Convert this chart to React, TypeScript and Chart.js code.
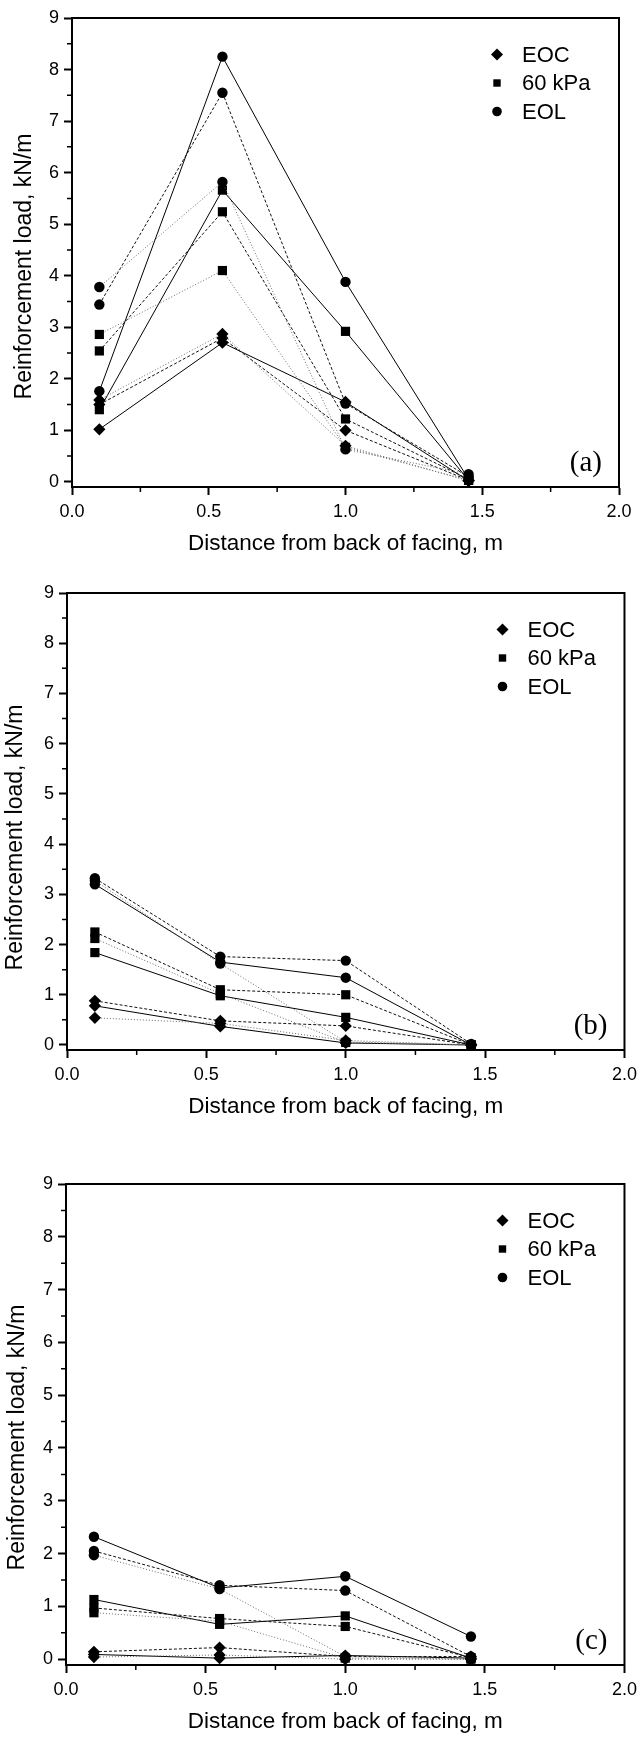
import React, { useEffect, useRef } from 'react';
import { Chart, registerables } from 'chart.js';

Chart.register(...registerables);

// ---------- data ----------
const distances = [0.1, 0.55, 1.0, 1.45];
const stageLabels = ['EOC', '60 kPa', 'EOL'];
const xTickValues = [0, 0.5, 1.0, 1.5, 2.0];
const xMinorTickValues = [0.25, 0.75, 1.25, 1.75];
const yTickValues = [0, 1, 2, 3, 4, 5, 6, 7, 8, 9];
const yMinorTickValues = [0.5, 1.5, 2.5, 3.5, 4.5, 5.5, 6.5, 7.5, 8.5];
const xAxisTitle = 'Distance from back of facing, m';
const yAxisTitle = 'Reinforcement load, kN/m';

// Panel (a)
const aEocSolid = [1.02, 2.7, 1.55, 0.02];
const aEocDashed = [1.5, 2.79, 1.0, 0.03];
const aEocDotted = [1.59, 2.87, 0.7, 0.02];
const a60Solid = [1.4, 5.66, 2.92, 0.03];
const a60Dashed = [2.54, 5.24, 1.22, 0.05];
const a60Dotted = [2.86, 4.1, 0.67, 0.03];
const aEolSolid = [1.76, 8.25, 3.88, 0.05];
const aEolDashed = [3.44, 7.55, 1.52, 0.1];
const aEolDotted = [3.78, 5.82, 0.63, 0.15];

// Panel (b)
const bEocSolid = [0.78, 0.37, 0.04, 0.0];
const bEocDashed = [0.88, 0.48, 0.38, 0.0];
const bEocDotted = [0.54, 0.43, 0.09, 0.0];
const b60Solid = [1.84, 0.98, 0.55, 0.0];
const b60Dashed = [2.25, 1.1, 1.0, 0.0];
const b60Dotted = [2.12, 1.02, 0.05, 0.0];
const bEolSolid = [3.2, 1.65, 1.34, 0.0];
const bEolDashed = [3.32, 1.76, 1.68, 0.02];
const bEolDotted = [3.27, 1.62, 0.06, 0.0];

// Panel (c)
const cEocSolid = [0.09, 0.02, 0.07, 0.02];
const cEocDashed = [0.14, 0.22, 0.05, 0.05];
const cEocDotted = [0.04, 0.08, 0.0, 0.0];
const c60Solid = [1.13, 0.66, 0.82, 0.02];
const c60Dashed = [0.97, 0.77, 0.62, 0.03];
const c60Dotted = [0.88, 0.72, 0.02, 0.0];
const cEolSolid = [2.32, 1.35, 1.57, 0.43];
const cEolDashed = [2.05, 1.4, 1.3, 0.05];
const cEolDotted = [1.97, 1.33, 0.05, 0.0];

// ---------- styles ----------
const SANS = "'Liberation Sans', Arial, sans-serif";
const SERIF = "'Liberation Serif', 'Times New Roman', serif";
const lineStyles = [
  { color: '#000000', dash: [] as number[] },
  { color: '#111111', dash: [3, 2] },
  { color: '#6a6a6a', dash: [1, 2] },
];
const markerStyles = [
  { style: 'rectRot', radius: 6.1 },
  { style: 'rect', radius: 6.5 },
  { style: 'circle', radius: 5.2 },
];

const panels = [
  {
    tag: '(a)',
    series: [
      [aEocSolid, aEocDashed, aEocDotted],
      [a60Solid, a60Dashed, a60Dotted],
      [aEolSolid, aEolDashed, aEolDotted],
    ],
    geom: { top: 0, chartTop: 18, chartBottom: 487, left: 72, right: 619, yMin: -0.1, yTitleX: 25, yTitleShift: 14 },
  },
  {
    tag: '(b)',
    series: [
      [bEocSolid, bEocDashed, bEocDotted],
      [b60Solid, b60Dashed, b60Dotted],
      [bEolSolid, bEolDashed, bEolDotted],
    ],
    geom: { top: 565, chartTop: 593, chartBottom: 1050, left: 67, right: 629, yMin: -0.1, yTitleX: 16, yTitleShift: 16 },
  },
  {
    tag: '(c)',
    series: [
      [cEocSolid, cEocDashed, cEocDotted],
      [c60Solid, c60Dashed, c60Dotted],
      [cEolSolid, cEolDashed, cEolDotted],
    ],
    geom: { top: 1125, chartTop: 1184, chartBottom: 1665, left: 66, right: 628, yMin: -0.11, yTitleX: 18, yTitleShift: 13 },
  },
];

const WIDTH = 643;

function drawMarker(ctx: CanvasRenderingContext2D, kind: string, x: number, y: number) {
  ctx.beginPath();
  if (kind === 'rectRot') {
    const r = 6;
    ctx.moveTo(x, y - r);
    ctx.lineTo(x + r, y);
    ctx.lineTo(x, y + r);
    ctx.lineTo(x - r, y);
    ctx.closePath();
  } else if (kind === 'rect') {
    const h = 3.7;
    ctx.rect(x - h, y - h, 2 * h, 2 * h);
  } else {
    ctx.arc(x, y, 4.8, 0, Math.PI * 2);
  }
  ctx.fill();
}

const framePlugin = {
  id: 'frame',
  afterDraw(chart: any, _args: any, opts: any) {
    const { ctx, chartArea: ca, scales } = chart;
    ctx.save();
    // top and right frame
    ctx.strokeStyle = '#000';
    ctx.lineWidth = 2;
    ctx.beginPath();
    ctx.moveTo(ca.left - 1, ca.top);
    ctx.lineTo(ca.right, ca.top);
    ctx.lineTo(ca.right, ca.bottom + 1);
    ctx.stroke();
    // minor ticks
    ctx.lineWidth = 1.5;
    ctx.beginPath();
    yMinorTickValues.forEach((v) => {
      const py = scales.y.getPixelForValue(v);
      ctx.moveTo(ca.left - 5, py);
      ctx.lineTo(ca.left, py);
    });
    xMinorTickValues.forEach((v) => {
      const px = scales.x.getPixelForValue(v);
      ctx.moveTo(px, ca.bottom);
      ctx.lineTo(px, ca.bottom + 5);
    });
    ctx.stroke();
    // legend
    ctx.fillStyle = '#000';
    ctx.font = `22px ${SANS}`;
    ctx.textBaseline = 'middle';
    ctx.textAlign = 'left';
    const rowOffsets = [36.5, 65, 93.5];
    stageLabels.forEach((label, i) => {
      const y = ca.top + rowOffsets[i];
      drawMarker(ctx, markerStyles[i].style, ca.right - 122, y);
      ctx.fillText(label, ca.right - 97, y + 1);
    });
    // panel tag
    ctx.font = `29px ${SERIF}`;
    ctx.textAlign = 'right';
    ctx.fillText(opts.tag, ca.right - 17, ca.bottom - 24);
    // y-axis title
    ctx.font = `23px ${SANS}`;
    ctx.textAlign = 'center';
    ctx.translate(opts.yTitleX, (ca.top + ca.bottom) / 2 + opts.yTitleShift);
    ctx.rotate(-Math.PI / 2);
    ctx.fillText(yAxisTitle, 0, 0);
    ctx.restore();
  },
};

function Panel({ panel }: { panel: (typeof panels)[number] }) {
  const ref = useRef<HTMLCanvasElement>(null);
  const g = panel.geom;
  const height = g.chartBottom - g.top + 70;

  useEffect(() => {
    if (!ref.current) return;
    const datasets: any[] = [];
    for (let k = 2; k >= 0; k--) {
      for (let s = 0; s < 3; s++) {
        const values = panel.series[s][k];
        datasets.push({
          label: `${stageLabels[s]}-${k}`,
          data: distances.map((x, i) => ({ x, y: values[i] })),
          showLine: true,
          borderColor: lineStyles[k].color,
          borderDash: lineStyles[k].dash,
          borderWidth: 1,
          pointStyle: markerStyles[s].style,
          pointRadius: markerStyles[s].radius,
          pointBackgroundColor: '#000',
          pointBorderColor: '#000',
          pointBorderWidth: 0,
          clip: false,
        });
      }
    }
    const tickFont = { family: SANS, size: 18 };
    const gridOpts = {
      drawOnChartArea: false,
      drawTicks: true,
      tickLength: 8,
      tickWidth: 2,
      tickColor: '#000',
    };
    const chart = new Chart(ref.current, {
      type: 'scatter',
      data: { datasets },
      options: {
        responsive: false,
        animation: false,
        devicePixelRatio: 1,
        layout: { padding: { left: 0, right: WIDTH - g.right, top: g.chartTop - g.top, bottom: 0 } },
        plugins: {
          legend: { display: false },
          tooltip: { enabled: false },
          frame: { tag: panel.tag, yTitleX: g.yTitleX, yTitleShift: g.yTitleShift },
        } as any,
        scales: {
          x: {
            type: 'linear',
            position: 'bottom',
            min: 0,
            max: 2,
            afterBuildTicks: (s: any) => {
              s.ticks = xTickValues.map((v) => ({ value: v }));
            },
            afterFit: (s: any) => {
              s.height = height - (g.chartBottom - g.top);
            },
            ticks: {
              callback: (v: any) => Number(v).toFixed(1),
              font: tickFont,
              color: '#000',
              padding: 6,
              maxRotation: 0,
              autoSkip: false,
            },
            grid: gridOpts,
            border: { display: true, color: '#000', width: 2 },
            title: {
              display: true,
              text: xAxisTitle,
              font: { family: SANS, size: 22.5 },
              color: '#000',
              padding: { top: 0, bottom: 0 },
            },
          },
          y: {
            type: 'linear',
            position: 'left',
            min: g.yMin,
            max: 9,
            afterBuildTicks: (s: any) => {
              s.ticks = yTickValues.map((v) => ({ value: v }));
            },
            afterFit: (s: any) => {
              s.width = g.left;
            },
            ticks: {
              callback: (v: any) => String(v),
              font: tickFont,
              color: '#000',
              padding: 5,
              autoSkip: false,
            },
            grid: gridOpts,
            border: { display: true, color: '#000', width: 2 },
            title: { display: false },
          },
        },
      } as any,
      plugins: [framePlugin],
    });
    return () => chart.destroy();
  }, []);

  return (
    <div style={{ position: 'absolute', left: 0, top: g.top, width: WIDTH, height }}>
      <canvas ref={ref} width={WIDTH} height={height} style={{ display: 'block', width: WIDTH, height }} />
    </div>
  );
}

export default function App() {
  return (
    <div style={{ position: 'absolute', left: 0, top: 0, width: WIDTH, height: 1737, background: '#fff' }}>
      {panels.map((p) => (
        <Panel key={p.tag} panel={p} />
      ))}
    </div>
  );
}
